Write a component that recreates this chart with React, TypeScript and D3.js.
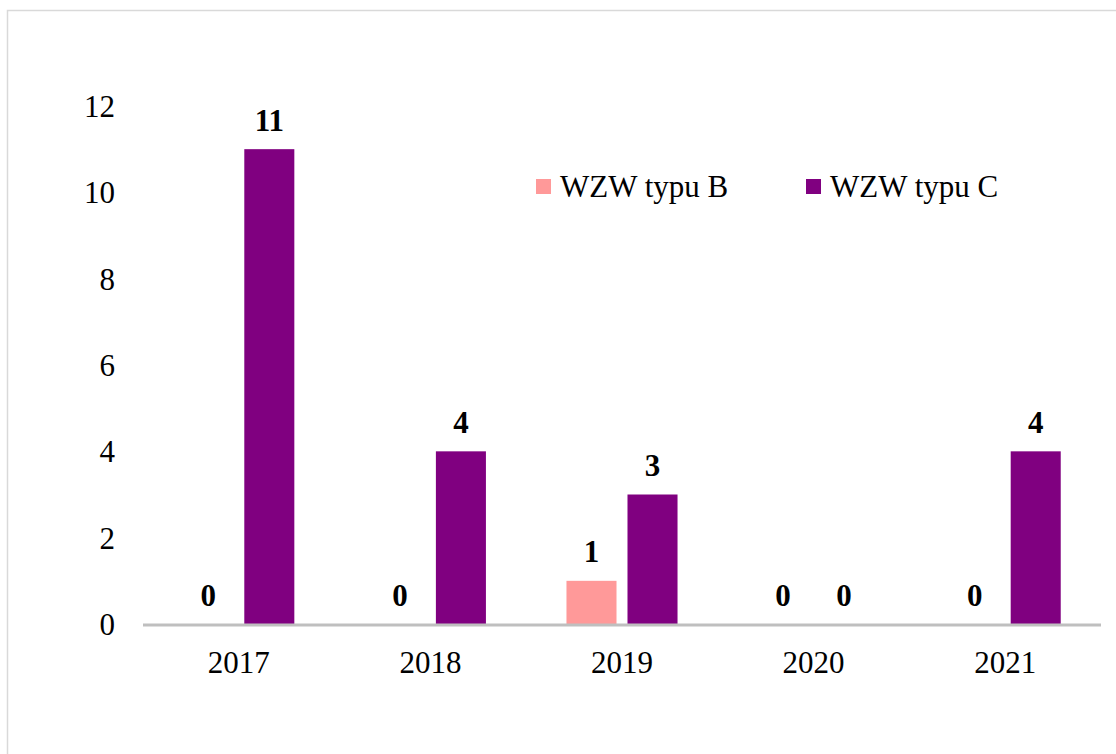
import React from "react";
import * as d3 from "d3";

// data
const years = ["2017", "2018", "2019", "2020", "2021"];
const seriesNames = ["WZW typu B", "WZW typu C"];
const typeB = [0, 0, 1, 0, 0];
const typeC = [11, 4, 3, 0, 4];
const yTicks = [0, 2, 4, 6, 8, 10, 12];
const colors = ["#ff9999", "#800080"];

const W = 1116;
const H = 754;
const FONT = "'Liberation Serif', 'Times New Roman', serif";
const FS = 31;

export default function App() {
  const x = d3.scaleBand().domain(years).range([143, 1101]).padding(0);
  const x1 = d3
    .scaleBand()
    .domain(seriesNames)
    .range([0, x.bandwidth()])
    .paddingInner(0.18)
    .paddingOuter(0.66);
  const y = d3.scaleLinear().domain([0, 12]).range([624, 106]);

  const rows = years.map((yr, i) => ({
    year: yr,
    values: [typeB[i], typeC[i]],
  }));

  return (
    <svg
      width={W}
      height={H}
      style={{ position: "absolute", left: 0, top: 0, background: "#fff" }}
    >
      {/* outer frame, runs past the viewport on right and bottom */}
      <rect
        x={7.5}
        y={10.5}
        width={W + 20}
        height={H + 20}
        fill="none"
        stroke="#d9d9d9"
        strokeWidth={1.5}
      />

      {/* y tick labels */}
      {yTicks.map((t) => (
        <text
          key={t}
          x={115}
          y={y(t)}
          dy="0.35em"
          textAnchor="end"
          fontFamily={FONT}
          fontSize={FS}
          fill="#000"
        >
          {t}
        </text>
      ))}

      {/* bars */}
      {rows.map((r) => (
        <g key={r.year} transform={`translate(${x(r.year)},0)`}>
          {r.values.map((v, j) => (
            <rect
              key={j}
              x={x1(seriesNames[j])}
              y={y(v)}
              width={x1.bandwidth()}
              height={y(0) - y(v)}
              fill={colors[j]}
            />
          ))}
          {r.values.map((v, j) => (
            <text
              key={"l" + j}
              x={(x1(seriesNames[j]) as number) + x1.bandwidth() / 2}
              y={y(v) - 18.5}
              textAnchor="middle"
              fontFamily={FONT}
              fontWeight="bold"
              fontSize={FS}
              fill="#000"
            >
              {v}
            </text>
          ))}
        </g>
      ))}

      {/* x axis line */}
      <line x1={143} x2={1101} y1={625} y2={625} stroke="#bfbfbf" strokeWidth={3} />

      {/* x labels */}
      {years.map((yr) => (
        <text
          key={yr}
          x={(x(yr) as number) + x.bandwidth() / 2}
          y={673}
          textAnchor="middle"
          fontFamily={FONT}
          fontSize={FS}
          fill="#000"
        >
          {yr}
        </text>
      ))}

      {/* legend */}
      {seriesNames.map((name, i) => (
        <g key={name} transform={`translate(${536 + i * 270},179)`}>
          <rect width={15} height={15} fill={colors[i]} />
          <text x={24} y={18} fontFamily={FONT} fontSize={FS} fill="#000">
            {name}
          </text>
        </g>
      ))}
    </svg>
  );
}
